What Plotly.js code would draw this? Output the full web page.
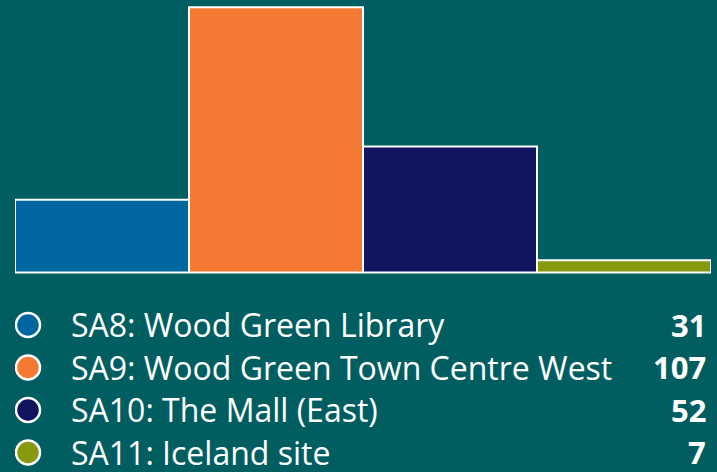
<!DOCTYPE html>
<html>
<head>
<meta charset="utf-8">
<script src="https://cdn.plot.ly/plotly-3.0.1.min.js"></script>
<style>
html,body{margin:0;padding:0;background:#005e61;}
#chart{width:717px;height:472px;}
</style>
</head>
<body>
<div id="chart"></div>
<script>
// Data
const categories = ["SA8: Wood Green Library", "SA9: Wood Green Town Centre West", "SA10: The Mall (East)", "SA11: Iceland site"];
const values = [31, 107, 52, 7];
const colors = ["#0066a0", "#f47a34", "#11145e", "#86990f"];

const BG = "#005e61";
const FONT = "Open Sans, sans-serif";
const rows = categories.map((_, i) => i);

const barTrace = {
  type: "bar",
  x: rows,
  y: values,
  marker: {color: colors, line: {color: "#ffffff", width: 2}},
  hoverinfo: "skip",
  xaxis: "x",
  yaxis: "y",
  cliponaxis: true
};

const legendDots = {
  type: "scatter",
  mode: "markers",
  x: rows.map(() => 28),
  y: rows,
  marker: {color: colors, size: 24, line: {color: "#ffffff", width: 2.5}},
  hoverinfo: "skip",
  xaxis: "x2",
  yaxis: "y2"
};

const annotations = [];
categories.forEach((c, i) => {
  annotations.push({
    xref: "x2", yref: "y2", x: 69, y: i, text: c,
    xanchor: "left", yanchor: "middle", showarrow: false,
    font: {family: FONT, size: 32, color: "#ffffff"}
  });
  annotations.push({
    xref: "x2", yref: "y2", x: 708, y: i, text: "<b>" + values[i] + "</b>",
    xanchor: "right", yanchor: "middle", showarrow: false,
    font: {family: FONT, size: 31, color: "#ffffff"}
  });
});

const split = (472 - 272.5) / 472;

const layout = {
  width: 717, height: 472,
  margin: {l: 15, r: 5.5, t: 0, b: 0, pad: 0},
  paper_bgcolor: BG, plot_bgcolor: BG,
  showlegend: false,
  bargap: 0,
  xaxis: {domain: [0, 1], range: [-0.5, 3.5], visible: false, fixedrange: true},
  yaxis: {domain: [split, 1], range: [2.2, 109.9], visible: false, fixedrange: true},
  xaxis2: {domain: [0, 1], range: [15, 711.5], visible: false, anchor: "y2"},
  yaxis2: {domain: [0, split], range: [3.459, -1.235], visible: false, anchor: "x2"},
  shapes: [{
    type: "line", xref: "paper", yref: "paper", x0: 0, x1: 1, y0: split, y1: split,
    line: {color: "#ffffff", width: 2}
  }],
  annotations: annotations,
  font: {family: FONT, color: "#ffffff"}
};

Plotly.newPlot("chart", [barTrace, legendDots], layout, {displayModeBar: false, staticPlot: true});
</script>
</body>
</html>
